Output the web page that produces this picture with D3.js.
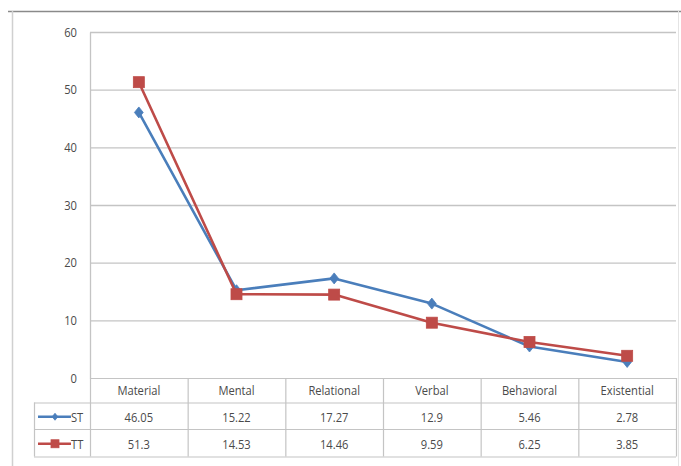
<!DOCTYPE html>
<html>
<head>
<meta charset="utf-8">
<script src="https://cdn.jsdelivr.net/npm/d3@7/dist/d3.min.js"></script>
<style>
  html, body { margin: 0; padding: 0; background: #fff; }
  svg { display: block; }
  text { font-family: "Liberation Sans Narrow", "Open Sans", "DejaVu Sans Condensed", sans-serif; }
</style>
</head>
<body>
<svg id="chart" width="681" height="466"></svg>
<script>
// Process types and their percentages in source text (ST) and target text (TT)
const categories = ["Material", "Mental", "Relational", "Verbal", "Behavioral", "Existential"];
const stValues = [46.05, 15.22, 17.27, 12.9, 5.46, 2.78];
const ttValues = [51.3, 14.53, 14.46, 9.59, 6.25, 3.85];
const stLabels = ["46.05", "15.22", "17.27", "12.9", "5.46", "2.78"];
const ttLabels = ["51.3", "14.53", "14.46", "9.59", "6.25", "3.85"];
const yTicks = [0, 10, 20, 30, 40, 50, 60];

const series = [
  { name: "ST", values: stValues, labels: stLabels, color: "#4A7EBB", marker: "diamond" },
  { name: "TT", values: ttValues, labels: ttLabels, color: "#BE4B48", marker: "square" }
];

const svg = d3.select("#chart");
const plot = { left: 90, right: 676, top: 32, bottom: 378 };
const rowHeights = [24.5, 26.5, 27.5];
const rowTops = [plot.bottom, plot.bottom + rowHeights[0], plot.bottom + rowHeights[0] + rowHeights[1]];
const tableBottom = rowTops[2] + rowHeights[2];
const legendLeft = 34;
const squeeze = 0.86;   // narrow the glyphs a little
const fontSize = 13;
const textColor = "#4a4a4a";

const x = d3.scaleBand().domain(categories).range([plot.left, plot.right]);
const y = d3.scaleLinear().domain([0, 60]).range([plot.bottom, plot.top]);

// text helper drawing condensed labels
function label(g, tx, ty, str, anchor) {
  return g.append("text")
    .attr("transform", `translate(${tx},${ty}) scale(${squeeze},1)`)
    .attr("text-anchor", anchor || "middle")
    .attr("font-size", fontSize).attr("fill", textColor)
    .text(str);
}

// outer frame
svg.append("line").attr("x1", 8).attr("x2", 681).attr("y1", 11.5).attr("y2", 11.5)
  .attr("stroke", "#8a8a8a").attr("stroke-width", 1.5);
svg.append("line").attr("x1", 12.5).attr("x2", 12.5).attr("y1", 11).attr("y2", 466)
  .attr("stroke", "#d0d0d0").attr("stroke-width", 1.5);
svg.append("line").attr("x1", 678.5).attr("x2", 678.5).attr("y1", 11).attr("y2", 466)
  .attr("stroke", "#e4e4e4").attr("stroke-width", 1);

// horizontal gridlines
svg.append("g").selectAll("line").data(yTicks.filter(d => d > 0)).join("line")
  .attr("x1", plot.left).attr("x2", plot.right)
  .attr("y1", d => y(d) + 0.5).attr("y2", d => y(d) + 0.5)
  .attr("stroke", "#c4c4c4").attr("stroke-width", 1.3);

// y axis line and labels
const yAxis = d3.axisLeft(y).tickValues(yTicks).tickSize(0).tickFormat("");
const yg = svg.append("g").attr("transform", `translate(${plot.left},0)`).call(yAxis);
yg.select(".domain").attr("stroke", "#c4c4c4").attr("stroke-width", 1.3);
const ylab = svg.append("g");
yTicks.forEach(t => label(ylab, 77, y(t) + 4.5, String(t), "end"));

// data table grid
const grid = svg.append("g").attr("stroke", "#c4c4c4").attr("stroke-width", 1.2);
grid.append("line").attr("x1", plot.left).attr("x2", plot.right).attr("y1", rowTops[0] + 0.5).attr("y2", rowTops[0] + 0.5);
[rowTops[1], rowTops[2], tableBottom].forEach(yy => {
  grid.append("line").attr("x1", legendLeft).attr("x2", plot.right).attr("y1", yy + 0.5).attr("y2", yy + 0.5);
});
categories.forEach(c => {
  grid.append("line").attr("x1", x(c) + x.bandwidth() + 0.5).attr("x2", x(c) + x.bandwidth() + 0.5)
    .attr("y1", rowTops[0]).attr("y2", tableBottom);
});
grid.append("line").attr("x1", plot.left + 0.5).attr("x2", plot.left + 0.5).attr("y1", rowTops[0]).attr("y2", tableBottom);
grid.append("line").attr("x1", legendLeft + 0.5).attr("x2", legendLeft + 0.5).attr("y1", rowTops[1]).attr("y2", tableBottom);

// category header
const head = svg.append("g");
categories.forEach(c => label(head, x(c) + x.bandwidth() / 2, rowTops[0] + 17, c));

function drawMarker(g, kind, cx, cy, color, s) {
  if (kind === "diamond") {
    g.append("path")
      .attr("d", `M${cx},${cy - s}L${cx + s * 0.8},${cy}L${cx},${cy + s}L${cx - s * 0.8},${cy}Z`)
      .attr("fill", color).attr("stroke", color).attr("stroke-width", 0.8);
  } else {
    g.append("rect").attr("x", cx - s).attr("y", cy - s).attr("width", s * 2).attr("height", s * 2)
      .attr("fill", color).attr("stroke", color).attr("stroke-width", 0.8);
  }
}

const line = d3.line().x((d, i) => x(categories[i]) + x.bandwidth() / 2).y(d => y(d));

series.forEach((s, si) => {
  const g = svg.append("g");
  g.append("path").datum(s.values)
    .attr("d", line).attr("fill", "none")
    .attr("stroke", s.color).attr("stroke-width", 2.6).attr("stroke-linejoin", "round");
  s.values.forEach((v, i) => {
    drawMarker(g, s.marker, x(categories[i]) + x.bandwidth() / 2, y(v), s.color, 5.5);
  });

  // table row
  const top = rowTops[si + 1];
  const cy = top + rowHeights[si + 1] / 2;
  const rg = svg.append("g");
  s.labels.forEach((d, i) => label(rg, x(categories[i]) + x.bandwidth() / 2, cy + 6, d));

  // legend key inside the row header
  const lg = svg.append("g");
  lg.append("line").attr("x1", 38).attr("x2", 71).attr("y1", cy + 1).attr("y2", cy + 1)
    .attr("stroke", s.color).attr("stroke-width", 2.4);
  drawMarker(lg, s.marker, 55, cy + 1, s.color, s.marker === "diamond" ? 3.5 : 4);
  label(lg, 71, cy + 6, s.name, "start");
});
</script>
</body>
</html>
